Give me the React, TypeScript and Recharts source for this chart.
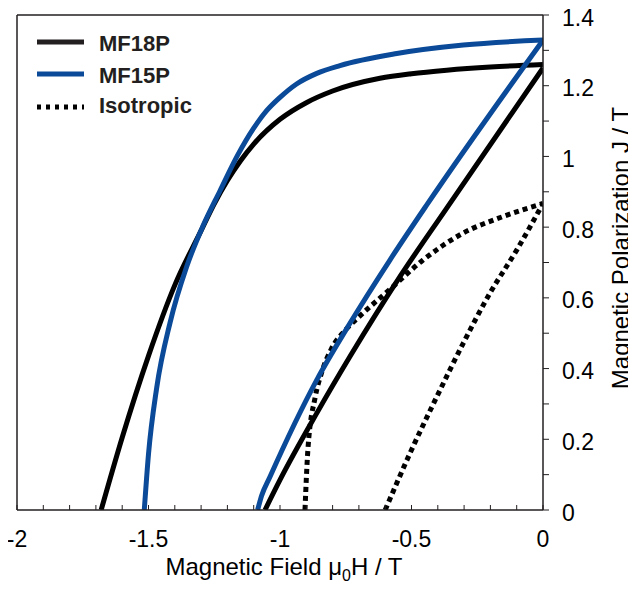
import React from 'react';
import { LineChart, Line, XAxis, YAxis, ReferenceLine } from 'recharts';

// MF18P – J(H) demagnetization curve
const mf18pJ = [
  { x: -1.68, y: 0.0 },
  { x: -1.6, y: 0.205 },
  { x: -1.5, y: 0.436 },
  { x: -1.4, y: 0.636 },
  { x: -1.3, y: 0.79 },
  { x: -1.25, y: 0.866 },
  { x: -1.2, y: 0.932 },
  { x: -1.15, y: 0.988 },
  { x: -1.1, y: 1.035 },
  { x: -1.0, y: 1.105 },
  { x: -0.9, y: 1.152 },
  { x: -0.8, y: 1.185 },
  { x: -0.62, y: 1.221 },
  { x: -0.5, y: 1.234 },
  { x: -0.366, y: 1.244 },
  { x: -0.2, y: 1.253 },
  { x: 0, y: 1.26 },
];
// MF18P – B(H) line
const mf18pB = [
  { x: -1.057, y: 0.0 },
  { x: -1.0, y: 0.085 },
  { x: -0.86, y: 0.274 },
  { x: -0.734, y: 0.434 },
  { x: -0.544, y: 0.66 },
  { x: -0.366, y: 0.854 },
  { x: 0, y: 1.25 },
];
// MF15P – J(H)
const mf15pJ = [
  { x: -1.516, y: 0.0 },
  { x: -1.5, y: 0.158 },
  { x: -1.469, y: 0.345 },
  { x: -1.418, y: 0.53 },
  { x: -1.355, y: 0.688 },
  { x: -1.293, y: 0.803 },
  { x: -1.228, y: 0.903 },
  { x: -1.16, y: 1.005 },
  { x: -1.1, y: 1.08 },
  { x: -1.05, y: 1.13 },
  { x: -1.0, y: 1.167 },
  { x: -0.937, y: 1.205 },
  { x: -0.86, y: 1.235 },
  { x: -0.772, y: 1.257 },
  { x: -0.556, y: 1.291 },
  { x: -0.303, y: 1.315 },
  { x: 0, y: 1.329 },
];
// MF15P – B(H)
const mf15pB = [
  { x: -1.085, y: 0.0 },
  { x: -1.07, y: 0.04 },
  { x: -1.038, y: 0.094 },
  { x: -0.86, y: 0.368 },
  { x: -0.734, y: 0.528 },
  { x: -0.582, y: 0.707 },
  { x: -0.44, y: 0.865 },
  { x: 0, y: 1.329 },
];
// Isotropic – J(H)
const isoJ = [
  { x: -0.905, y: 0.0 },
  { x: -0.894, y: 0.17 },
  { x: -0.866, y: 0.32 },
  { x: -0.841, y: 0.39 },
  { x: -0.805, y: 0.455 },
  { x: -0.75, y: 0.51 },
  { x: -0.696, y: 0.549 },
  { x: -0.582, y: 0.624 },
  { x: -0.456, y: 0.707 },
  { x: -0.304, y: 0.783 },
  { x: -0.152, y: 0.83 },
  { x: 0, y: 0.867 },
];
// Isotropic – B(H)
const isoB = [
  { x: -0.6, y: 0.0 },
  { x: -0.506, y: 0.16 },
  { x: -0.404, y: 0.32 },
  { x: -0.303, y: 0.472 },
  { x: -0.202, y: 0.613 },
  { x: -0.1, y: 0.735 },
  { x: 0, y: 0.867 },
];

const xTicks = [-2, -1.9, -1.8, -1.7, -1.6, -1.5, -1.4, -1.3, -1.2, -1.1, -1, -0.9, -0.8, -0.7, -0.6, -0.5, -0.4, -0.3, -0.2, -0.1, 0];
const xMajorTicks = [-2, -1.5, -1, -0.5, 0];
const xTickLabels = ['-2', '-1.5', '-1', '-0.5', '0'];
const yTicks = [0, 0.1, 0.2, 0.3, 0.4, 0.5, 0.6, 0.7, 0.8, 0.9, 1, 1.1, 1.2, 1.3, 1.4];
const yMajorTicks = [0, 0.2, 0.4, 0.6, 0.8, 1, 1.2, 1.4];
const yTickLabels = ['0', '0.2', '0.4', '0.6', '0.8', '1', '1.2', '1.4'];

const seriesNames = ['MF18P', 'MF15P', 'Isotropic'];
const BLUE = '#0b4a98';
const BLACK = '#000000';
const AXIS = '#231f20';
const FONT = '"Liberation Sans", Arial, Helvetica, sans-serif';

const findIdx = (arr: number[], v: number) => arr.findIndex((a) => Math.abs(a - v) < 1e-6);

const XTick = (props: any) => {
  const { x, y, payload } = props;
  const i = findIdx(xMajorTicks, payload.value);
  return (
    <g>
      <line x1={x} x2={x} y1={y} y2={y - 5} stroke={AXIS} strokeWidth={1} />
      {i >= 0 && (
        <text x={x} y={y + 37} textAnchor="middle" fontSize={23} fontFamily={FONT} fill="#000">
          {xTickLabels[i]}
        </text>
      )}
    </g>
  );
};

const YTick = (props: any) => {
  const { x, y, payload } = props;
  const i = findIdx(yMajorTicks, payload.value);
  return (
    <g>
      <line x1={x} x2={x + 6} y1={y} y2={y} stroke={AXIS} strokeWidth={1} />
      {i >= 0 && (
        <text x={x + 19} y={y + 10.5} textAnchor="start" fontSize={23} fontFamily={FONT} fill="#000">
          {yTickLabels[i]}
        </text>
      )}
    </g>
  );
};

const XTitle = () => (
  <text x={276} y={567} textAnchor="middle" fontSize={24} fontFamily={FONT} fill="#000">
    Magnetic Field μ
    <tspan fontSize={16} dy={6}>0</tspan>
    <tspan dy={-6}>H / T</tspan>
  </text>
);

const YTitle = () => (
  <text
    x={612}
    y={240}
    transform="rotate(-90, 612, 240)"
    textAnchor="middle"
    dominantBaseline="central"
    fontSize={24}
    fontFamily={FONT}
    fill="#000"
  >
    Magnetic Polarization J / T
  </text>
);

const legendText: React.CSSProperties = {
  position: 'absolute',
  left: 63,
  fontSize: 22,
  fontWeight: 'bold',
  fontFamily: FONT,
  color: AXIS,
  lineHeight: '22px',
  whiteSpace: 'nowrap',
};

const LegendBox = () => (
  <div style={{ position: 'absolute', left: 28, top: 25, width: 220, height: 100, pointerEvents: 'none' }}>
    <svg width={60} height={100} style={{ position: 'absolute', left: 0, top: 0 }}>
      <line x1={1} x2={48} y1={9} y2={9} stroke={AXIS} strokeWidth={5} />
      <line x1={1} x2={48} y1={41} y2={41} stroke={BLUE} strokeWidth={5} />
      <line x1={1} x2={48} y1={74} y2={74} stroke={BLACK} strokeWidth={5} strokeDasharray="4 5" />
    </svg>
    <div style={{ ...legendText, top: 0 }}>{seriesNames[0]}</div>
    <div style={{ ...legendText, top: 32 }}>{seriesNames[1]}</div>
    <div style={{ ...legendText, top: 62 }}>{seriesNames[2]}</div>
  </div>
);

export default function App() {
  return (
    <div style={{ width: 628, height: 581, position: 'relative' }}>
      <LineChart width={628} height={581} margin={{ top: 7, right: 0, bottom: 0, left: 9 }}>
        <XAxis
          dataKey="x"
          type="number"
          domain={[-2, 0]}
          ticks={xTicks}
          interval={0}
          allowDataOverflow
          tickSize={0}
          tickMargin={0}
          tickLine={false}
          tick={<XTick />}
          height={79}
          axisLine={{ stroke: AXIS, strokeWidth: 1.5 }}
          label={<XTitle />}
        />
        <YAxis
          orientation="right"
          type="number"
          domain={[0, 1.4]}
          ticks={yTicks}
          interval={0}
          allowDataOverflow
          tickSize={0}
          tickMargin={0}
          tickLine={false}
          tick={<YTick />}
          width={93}
          axisLine={{ stroke: AXIS, strokeWidth: 1.5 }}
          label={<YTitle />}
        />
        <ReferenceLine y={1.4} stroke={AXIS} strokeWidth={1.5} ifOverflow="visible" />
        <ReferenceLine x={-2} stroke={AXIS} strokeWidth={1.5} ifOverflow="visible" />
        <Line data={isoJ} dataKey="y" type="monotone" stroke={BLACK} strokeWidth={5} strokeDasharray="5 4" dot={false} isAnimationActive={false} name="Isotropic" />
        <Line data={isoB} dataKey="y" type="monotone" stroke={BLACK} strokeWidth={5} strokeDasharray="5 4" dot={false} isAnimationActive={false} legendType="none" />
        <Line data={mf18pJ} dataKey="y" type="monotone" stroke={BLACK} strokeWidth={5} dot={false} isAnimationActive={false} name="MF18P" />
        <Line data={mf18pB} dataKey="y" type="monotone" stroke={BLACK} strokeWidth={5} dot={false} isAnimationActive={false} legendType="none" />
        <Line data={mf15pJ} dataKey="y" type="monotone" stroke={BLUE} strokeWidth={5} dot={false} isAnimationActive={false} name="MF15P" />
        <Line data={mf15pB} dataKey="y" type="monotone" stroke={BLUE} strokeWidth={5} dot={false} isAnimationActive={false} legendType="none" />
      </LineChart>
      <LegendBox />
    </div>
  );
}
